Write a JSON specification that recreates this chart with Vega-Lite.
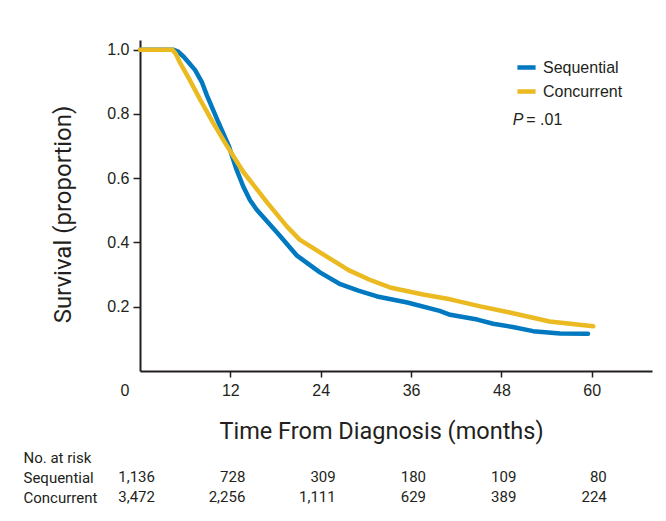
{
  "$schema": "https://vega.github.io/schema/vega-lite/v6.json",
  "background": "white",
  "padding": {"left": 23, "top": 40, "right": 5, "bottom": 5},
  "config": {
    "view": {"stroke": null},
    "concat": {"spacing": 4},
    "font": "Liberation Sans"
  },
  "datasets": {
    "curves": [
      {"group": "Sequential", "month": 0, "survival": 1.0},
      {"group": "Sequential", "month": 4.4, "survival": 1.0},
      {"group": "Sequential", "month": 5.0, "survival": 0.995},
      {"group": "Sequential", "month": 5.8, "survival": 0.978},
      {"group": "Sequential", "month": 6.6, "survival": 0.956},
      {"group": "Sequential", "month": 7.3, "survival": 0.937},
      {"group": "Sequential", "month": 8.2, "survival": 0.9},
      {"group": "Sequential", "month": 8.9, "survival": 0.857},
      {"group": "Sequential", "month": 10.2, "survival": 0.785},
      {"group": "Sequential", "month": 11.8, "survival": 0.70},
      {"group": "Sequential", "month": 12.8, "survival": 0.628},
      {"group": "Sequential", "month": 13.7, "survival": 0.575},
      {"group": "Sequential", "month": 14.6, "survival": 0.532},
      {"group": "Sequential", "month": 15.5, "survival": 0.502},
      {"group": "Sequential", "month": 18.2, "survival": 0.431},
      {"group": "Sequential", "month": 20.8, "survival": 0.36},
      {"group": "Sequential", "month": 23.9, "survival": 0.307},
      {"group": "Sequential", "month": 26.6, "survival": 0.27},
      {"group": "Sequential", "month": 29.0, "survival": 0.25},
      {"group": "Sequential", "month": 31.5, "survival": 0.232},
      {"group": "Sequential", "month": 35.5, "survival": 0.213},
      {"group": "Sequential", "month": 39.8, "survival": 0.187},
      {"group": "Sequential", "month": 41.2, "survival": 0.175},
      {"group": "Sequential", "month": 44.8, "survival": 0.16},
      {"group": "Sequential", "month": 46.9, "survival": 0.147},
      {"group": "Sequential", "month": 49.5, "survival": 0.137},
      {"group": "Sequential", "month": 52.2, "survival": 0.124},
      {"group": "Sequential", "month": 55.8, "survival": 0.117},
      {"group": "Sequential", "month": 59.5, "survival": 0.116},
      {"group": "Concurrent", "month": 0, "survival": 1.0},
      {"group": "Concurrent", "month": 4.3, "survival": 1.0},
      {"group": "Concurrent", "month": 4.8, "survival": 0.985},
      {"group": "Concurrent", "month": 5.3, "survival": 0.96},
      {"group": "Concurrent", "month": 6.6, "survival": 0.906},
      {"group": "Concurrent", "month": 8.0, "survival": 0.844},
      {"group": "Concurrent", "month": 9.7, "survival": 0.773},
      {"group": "Concurrent", "month": 11.3, "survival": 0.71},
      {"group": "Concurrent", "month": 13.7, "survival": 0.62},
      {"group": "Concurrent", "month": 16.9, "survival": 0.524},
      {"group": "Concurrent", "month": 19.5, "survival": 0.45},
      {"group": "Concurrent", "month": 21.2, "survival": 0.409},
      {"group": "Concurrent", "month": 23.9, "survival": 0.369},
      {"group": "Concurrent", "month": 27.7, "survival": 0.314},
      {"group": "Concurrent", "month": 30.5, "survival": 0.284},
      {"group": "Concurrent", "month": 33.2, "survival": 0.26},
      {"group": "Concurrent", "month": 37.6, "survival": 0.238},
      {"group": "Concurrent", "month": 41.2, "survival": 0.223},
      {"group": "Concurrent", "month": 45.2, "survival": 0.201},
      {"group": "Concurrent", "month": 49.1, "survival": 0.182},
      {"group": "Concurrent", "month": 54.4, "survival": 0.154},
      {"group": "Concurrent", "month": 60.2, "survival": 0.139}
    ],
    "risk": [
      {"row": "Sequential", "month": 0, "n": 1136},
      {"row": "Sequential", "month": 12, "n": 728},
      {"row": "Sequential", "month": 24, "n": 309},
      {"row": "Sequential", "month": 36, "n": 180},
      {"row": "Sequential", "month": 48, "n": 109},
      {"row": "Sequential", "month": 60, "n": 80},
      {"row": "Concurrent", "month": 0, "n": 3472},
      {"row": "Concurrent", "month": 12, "n": 2256},
      {"row": "Concurrent", "month": 24, "n": 1111},
      {"row": "Concurrent", "month": 36, "n": 629},
      {"row": "Concurrent", "month": 48, "n": 389},
      {"row": "Concurrent", "month": 60, "n": 224}
    ]
  },
  "vconcat": [
    {
      "width": 512,
      "height": 331,
      "layer": [
        {
          "data": {"name": "curves"},
          "mark": {"type": "line", "strokeWidth": 4.5, "strokeCap": "round", "strokeJoin": "round"},
          "encoding": {
            "x": {
              "field": "month", "type": "quantitative",
              "scale": {"domain": [0, 68], "nice": false, "zero": false},
              "axis": {
                "values": [0, 12, 24, 36, 48, 60],
                "grid": false,
                "domainColor": "#231f20", "domainWidth": 2,
                "tickColor": "#231f20", "tickWidth": 1.5, "tickSize": 6,
                "tickOpacity": {"condition": {"test": "datum.value === 0", "value": 0}, "value": 1},
                "labelOffset": {"condition": {"test": "datum.value === 0", "value": -20}, "value": 0},
                "labelFont": "Liberation Sans", "labelFontSize": 16, "labelColor": "#231f20", "labelPadding": 5,
                "title": "Time From Diagnosis (months)",
                "titleFont": "Roboto", "titleFontSize": 23.5, "titleFontWeight": "normal", "titleColor": "#231f20",
                "titleX": 241, "titleY": 67, "titleBaseline": "alphabetic", "titleAlign": "center"
              }
            },
            "y": {
              "field": "survival", "type": "quantitative",
              "scale": {"domain": [0, 1.03], "nice": false},
              "axis": {
                "values": [0.2, 0.4, 0.6, 0.8, 1.0],
                "format": ".1f",
                "grid": false,
                "domainColor": "#231f20", "domainWidth": 2,
                "tickColor": "#231f20", "tickWidth": 1.5, "tickSize": 7,
                "labelFont": "Liberation Sans", "labelFontSize": 16, "labelColor": "#231f20", "labelPadding": 4,
                "title": "Survival (proportion)",
                "titleFont": "Roboto", "titleFontSize": 24, "titleFontWeight": "normal", "titleColor": "#231f20",
                "titleX": -77, "titleY": 174, "titleAngle": -90, "titleBaseline": "middle", "titleAlign": "center"
              }
            },
            "color": {
              "field": "group", "type": "nominal",
              "scale": {"domain": ["Sequential", "Concurrent"], "range": ["#0079c1", "#ebb920"]},
              "legend": {
                "title": null,
                "orient": "none", "legendX": 375, "legendY": 16,
                "symbolType": "stroke", "symbolSize": 330, "symbolStrokeWidth": 4.5,
                "labelFont": "Liberation Sans", "labelFontSize": 16, "labelColor": "#231f20",
                "labelOffset": 5, "rowPadding": 3, "padding": 0
              }
            }
          }
        },
        {
          "data": {"values": [{"month": 49.5, "survival": 0.782, "label": "P"}]},
          "mark": {"type": "text", "align": "left", "baseline": "middle", "fontSize": 16, "fontStyle": "italic", "font": "Liberation Sans", "color": "#231f20"},
          "encoding": {
            "x": {"field": "month", "type": "quantitative"},
            "y": {"field": "survival", "type": "quantitative"},
            "text": {"field": "label"}
          }
        },
        {
          "data": {"values": [{"month": 51.3, "survival": 0.782, "label": "= .01"}]},
          "mark": {"type": "text", "align": "left", "baseline": "middle", "fontSize": 16, "font": "Liberation Sans", "color": "#231f20"},
          "encoding": {
            "x": {"field": "month", "type": "quantitative"},
            "y": {"field": "survival", "type": "quantitative"},
            "text": {"field": "label"}
          }
        }
      ]
    },
    {
      "width": 512,
      "height": 60,
      "data": {"name": "risk"},
      "mark": {"type": "text", "align": "right", "baseline": "middle", "dx": 15, "fontSize": 15, "font": "Roboto", "color": "#231f20"},
      "encoding": {
        "x": {"field": "month", "type": "quantitative", "scale": {"domain": [0, 68], "nice": false, "zero": false}, "axis": null},
        "y": {
          "field": "row", "type": "nominal",
          "scale": {"domain": ["No. at risk", "Sequential", "Concurrent"]},
          "axis": {
            "title": null, "domain": false, "ticks": false, "tickSize": 0,
            "labelAlign": "left", "labelPadding": 117,
            "labelFont": "Roboto", "labelFontSize": 15, "labelColor": "#231f20"
          }
        },
        "text": {"field": "n", "type": "quantitative", "format": ","}
      }
    }
  ]
}
